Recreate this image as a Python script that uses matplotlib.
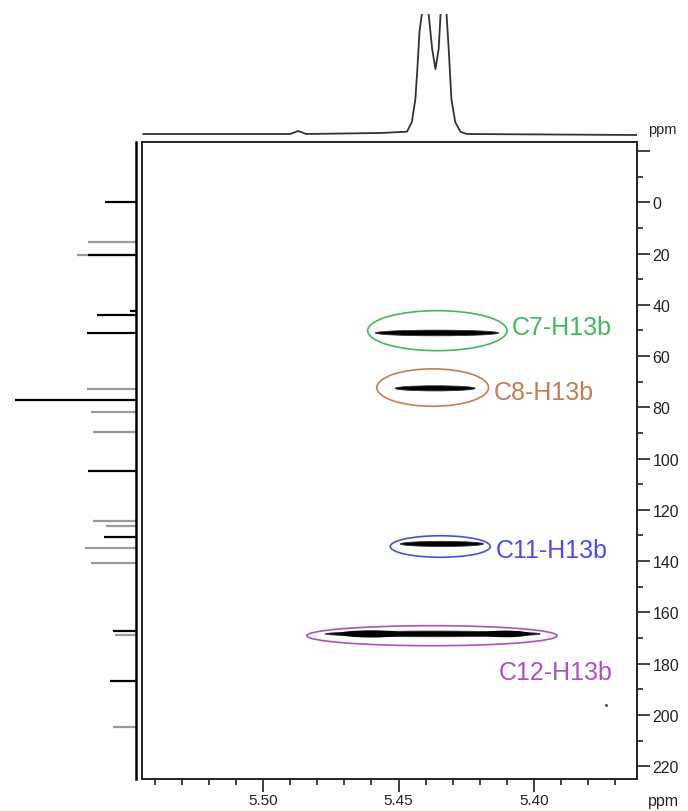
import matplotlib
matplotlib.use("Agg")
import matplotlib.pyplot as plt
from matplotlib.patches import Ellipse
from matplotlib.ticker import MultipleLocator, FixedLocator, FuncFormatter

plt.rcParams['font.family'] = ['Liberation Sans', 'DejaVu Sans']

# HMBC cross peaks (1H ppm, 13C ppm)
peak_names = ['C7-H13b', 'C8-H13b', 'C11-H13b', 'C12-H13b']
peak_colors = ['#3dba5a', '#c77b52', '#4c4ce8', '#b04fbf']
ring_h = [5.4357, 5.4374, 5.4346, 5.4377]
ring_c = [50.1, 72.3, 134.3, 169.1]
ring_w = [0.0514, 0.0412, 0.0369, 0.0923]
ring_hgt = [15.6, 14.6, 8.4, 7.8]
signal_h = [5.4358, 5.4365, 5.4340, 5.4374]
signal_c = [51.0, 72.6, 133.3, 168.4]
signal_w = [0.0455, 0.0295, 0.0307, 0.0793]
signal_hgt = [2.2, 2.0, 2.0, 2.2]
# stronger blobs inside the C12 peak
blob_h = [5.4600, 5.4105]
blob_c = [168.4, 168.4]
blob_w = [0.024, 0.018]
blob_hgt = [2.8, 2.6]
label_h = [5.4082, 5.4149, 5.4143, 5.4131]
label_c = [51.4, 76.7, 138.5, 186.0]
noise_h = [5.3734]
noise_c = [196.1]

# 1H projection (top)
top_ppm = [5.5442, 5.4900, 5.4870, 5.4841, 5.4568, 5.4494, 5.4469, 5.4451, 5.4438,
           5.4430, 5.4423, 5.4414, 5.4401, 5.4389, 5.4376, 5.4364, 5.4352, 5.4345,
           5.4334, 5.4323, 5.4315, 5.4305, 5.4291, 5.4272, 5.4248, 5.3620]
top_int = [0, 0, 3, 0, 1, 2, 2.3, 12, 35, 68, 102, 120, 200, 120, 85, 65, 85, 120,
           200, 120, 85, 35, 12, 2.3, 0, -1]

# 13C projection (left) sticks
c13_black = [0.0, 20.4, 42.3, 43.9, 51.0, 77.1, 104.7, 130.5, 167.1, 186.9]
c13_black_int = [31, 48, 6, 39, 49, 121, 48, 32, 23, 26]
c13_grey = [15.6, 20.4, 73.0, 81.7, 89.8, 124.5, 126.4, 135.0, 140.9, 168.7, 204.8]
c13_grey_int = [48, 59, 49, 45, 43, 43, 30, 51, 45, 21, 23]

W, H = 688, 812
fig = plt.figure(figsize=(6.88, 8.12), dpi=100)

xlim = (5.5447, 5.362)
ylim = (225.0, -23.5)

ax = fig.add_axes([142 / W, 32 / H, 495 / W, 637 / H])
ax.set_xlim(xlim)
ax.set_ylim(ylim)

for i in range(len(peak_names)):
    ax.add_patch(Ellipse((ring_h[i], ring_c[i]), ring_w[i], ring_hgt[i],
                         fill=False, edgecolor=peak_colors[i], linewidth=1.2))
    ax.add_patch(Ellipse((signal_h[i], signal_c[i]), signal_w[i], signal_hgt[i],
                         facecolor='black', edgecolor='#333333', linewidth=0.6))
    ax.text(label_h[i], label_c[i], peak_names[i], color=peak_colors[i],
            fontsize=18, ha='left', va='baseline')
for i in range(len(blob_h)):
    ax.add_patch(Ellipse((blob_h[i], blob_c[i]), blob_w[i], blob_hgt[i],
                         facecolor='black', edgecolor='none'))
ax.plot(noise_h, noise_c, 'o', color='#555555', markersize=1.2)

for s in ax.spines.values():
    s.set_linewidth(1.4)
    s.set_color('#222222')

ax.xaxis.set_major_locator(FixedLocator([5.50, 5.45, 5.40]))
ax.xaxis.set_minor_locator(MultipleLocator(0.01))
ax.xaxis.set_major_formatter(FuncFormatter(lambda v, p: '%.2f' % v))
ax.yaxis.tick_right()
ax.yaxis.set_major_locator(FixedLocator(list(range(-20, 221, 20))))
ax.yaxis.set_minor_locator(MultipleLocator(10))
ax.yaxis.set_major_formatter(FuncFormatter(lambda v, p: '' if v < 0 else '%d' % v))
ax.tick_params(which='major', length=9, width=1.2, labelsize=11.5, colors='#222222')
ax.tick_params(which='minor', length=4, width=1.2, colors='#222222')
ax.tick_params(axis='x', which='both', direction='out', pad=1, labelsize=11)
ax.tick_params(axis='y', which='both', direction='out', pad=2)

# top projection
axT = fig.add_axes([142 / W, (H - 140) / H, 495 / W, 125 / H])
axT.set_xlim(xlim)
axT.set_ylim(-5, 120)
axT.plot(top_ppm, top_int, color='#333333', linewidth=1.3)
axT.axis('off')

# left projection
axL = fig.add_axes([0, 32 / H, 136 / W, 637 / H])
axL.set_xlim(136, 0)
axL.set_ylim(ylim)
axL.hlines(c13_grey, 0, c13_grey_int, color='#9a9a9a', linewidth=1.6)
axL.hlines(c13_black, 0, c13_black_int, color='black', linewidth=1.6)
axL.axvline(0, color='black', linewidth=1.8, clip_on=False)
axL.axis('off')

fig.text(648 / W, 1 - 130 / H, 'ppm', fontsize=10.5, color='#222222', va='center', ha='left')
fig.text(648 / W, 1 - 802 / H, 'ppm', fontsize=11.5, color='#222222', va='center', ha='left')

fig.savefig('out.png', dpi=100)
